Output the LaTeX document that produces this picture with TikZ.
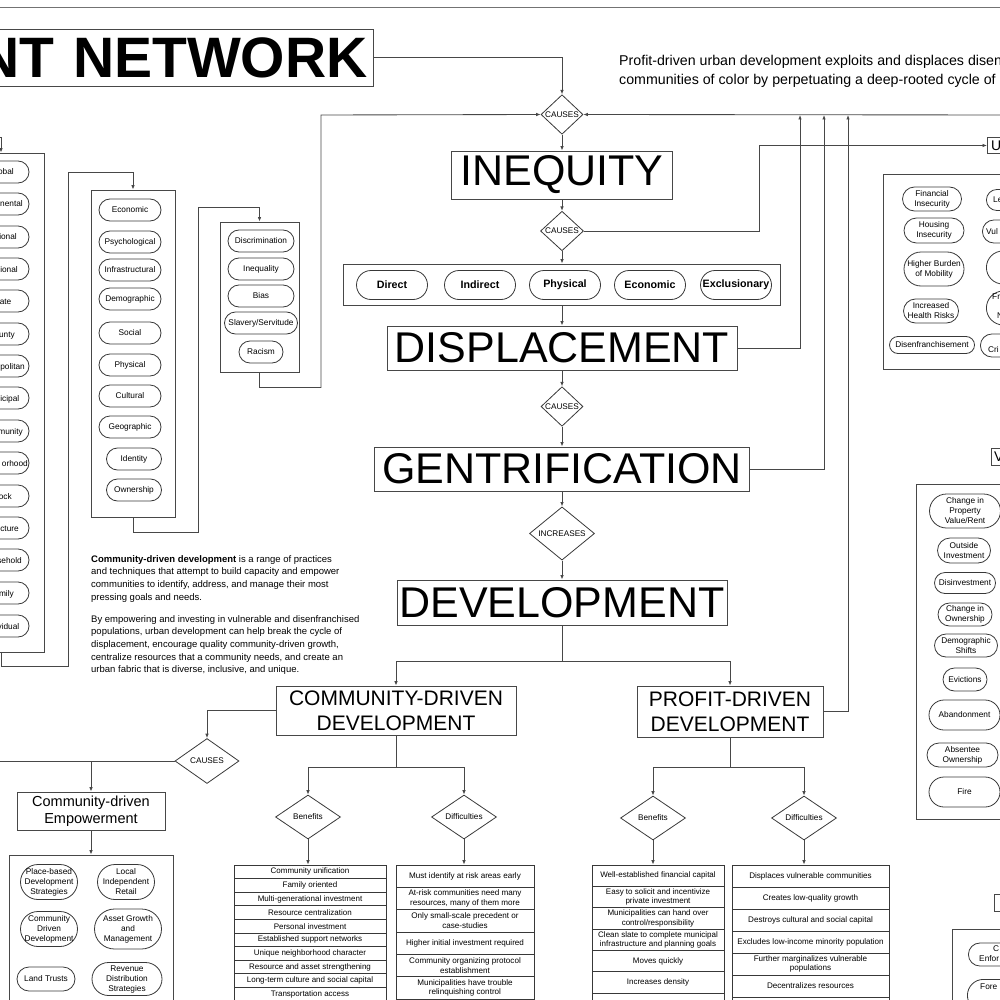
\documentclass[tikz,border=0pt]{standalone}
\usepackage{fontspec}
\setmainfont{Liberation Sans}
\usetikzlibrary{shapes.geometric,arrows.meta,positioning}
\begin{document}
\begin{tikzpicture}
[x=1pt,y=-1pt,
  linkdecorate/.style={draw=black!72,line width=0.85pt},
  arrowdecorate/.style={linkdecorate,-{Latex[length=4.5pt,width=3.6pt]}},
  boxdecorate/.style={draw=black!72,line width=0.9pt,inner sep=0pt},
  titledecorate/.style={boxdecorate,font=\fontsize{43}{43}\selectfont},
  subtitledecorate/.style={boxdecorate,align=center,font=\fontsize{21}{25}\selectfont},
  pilldecorate/.style={draw=black!78,line width=0.8pt,inner sep=0pt,align=center,font=\fontsize{8.3}{10}\selectfont},
  fragdecorate/.style={anchor=base west,inner sep=0pt,font=\fontsize{8.3}{10}\selectfont},
  gatedecorate/.style={diamond,draw=black!78,line width=0.8pt,inner sep=0pt,font=\fontsize{8.2}{9}\selectfont},
  rowdecorate/.style={draw=black!78,line width=0.8pt,inner sep=0pt,align=center,font=\fontsize{8.1}{9.6}\selectfont}]
\useasboundingbox (0,0) rectangle (1000,1000);
\clip (0,0) rectangle (1000,1000);

%% frame rule, title and texts
\draw[black!55,line width=0.8pt] (-5,7) -- (1005,7);
\node (title) [boxdecorate,anchor=east,text width=410pt,minimum height=57pt,inner xsep=6pt,align=right,font=\fontsize{57}{57}\selectfont\bfseries] at (374,57.5) {NT NETWORK};
\node (intro) [anchor=north west,inner sep=0pt,align=left,font=\fontsize{14.2}{19}\selectfont] at (619,55) {Profit-driven urban development exploits and displaces disen\\communities of color by perpetuating a deep-rooted cycle of};
\node (cddtext) [anchor=north west,inner sep=0pt,align=left,font=\fontsize{9.5}{12.7}\selectfont] at (91,555) {\textbf{Community-driven development} is a range of practices\\and techniques that attempt to build capacity and empower\\communities to identify, address, and manage their most\\pressing goals and needs.\\[9.3pt]By empowering and investing in vulnerable and disenfranchised\\populations, urban development can help break the cycle of\\displacement, encourage quality community-driven growth,\\centralize resources that a community needs, and create an\\urban fabric that is diverse, inclusive, and unique.};

%% main chain
\node (cause1) [gatedecorate,minimum width=42pt,minimum height=33pt] at (562,114.5) {CAUSES};
\node (inequity) [titledecorate,minimum width=221pt,minimum height=48pt] at (562,175) {INEQUITY};
\node (cause2) [gatedecorate,minimum width=43pt,minimum height=32pt] at (562,231) {CAUSES};
\node (types) [boxdecorate,minimum width=437pt,minimum height=41pt] at (562,284.5) {};
\foreach \nodename/\x in {Direct/392,Indirect/480,Physical/565,Economic/650,Exclusionary/736}
  \node (type\nodename) [pilldecorate,minimum width=71pt,minimum height=29pt,rounded corners=14.5pt,font=\fontsize{10.7}{12}\selectfont\bfseries] at (\x,285) {\nodename};
\node (displacement) [titledecorate,minimum width=350pt,minimum height=44pt] at (562,348) {DISPLACEMENT};
\node (cause3) [gatedecorate,minimum width=42pt,minimum height=30pt] at (562,406.5) {CAUSES};
\node (gentrification) [titledecorate,minimum width=375pt,minimum height=44pt] at (562,469) {GENTRIFICATION};
\node (increases) [gatedecorate,minimum width=65pt,minimum height=45pt] at (562,533.5) {INCREASES};
\node (development) [titledecorate,minimum width=330pt,minimum height=45pt] at (562,602.5) {DEVELOPMENT};
\node (community) [subtitledecorate,minimum width=240pt,minimum height=49pt] at (396,710.5) {COMMUNITY-DRIVEN\\DEVELOPMENT};
\node (profit) [subtitledecorate,minimum width=186pt,minimum height=51pt] at (730,711.5) {PROFIT-DRIVEN\\DEVELOPMENT};

\foreach \from/\to in {cause1/inequity,inequity/cause2,cause2/types,types/displacement,displacement/cause3,cause3/gentrification,gentrification/increases,increases/development}
  \draw[arrowdecorate] (\from) -- (\to);
\coordinate (devsplit) at (562,661);
\draw[arrowdecorate] (development) -- (devsplit) -| (community.north);
\draw[arrowdecorate] (devsplit) -| (profit.north);

%% links back up to the top
\node (ubox) [boxdecorate,anchor=west,minimum width=40pt,minimum height=16pt] at (987,145.5) {};
\node (ulabel) [anchor=west,inner sep=0pt,font=\fontsize{14}{14}\selectfont] at (991,145.5) {U};
\draw[arrowdecorate] (title.east) -| (cause1.north);
\draw[arrowdecorate] (cause2.east) -| (759,145.5) -- (ubox.west);
\draw[arrowdecorate] (displacement.east) -| (800,115);
\draw[arrowdecorate] (gentrification.east) -| (824,115);
\draw[arrowdecorate] (profit.east) -| (848,115);
\coordinate (farright) at (1010,115);
\draw[arrowdecorate] (farright) -- (cause1.east);

%% left boxes
\node (scales) [boxdecorate,minimum width=86pt,minimum height=499pt] at (1,402.5) {};
\node (forms) [boxdecorate,minimum width=84pt,minimum height=327pt] at (133,353.5) {};
\node (roots) [boxdecorate,minimum width=79pt,minimum height=150pt] at (259.5,297) {};
\coordinate (farleft) at (-20,137);
\draw[arrowdecorate] (farleft) -| (scales.north);
\draw[arrowdecorate] (scales.south) -- ++(0,14) -| (68,172) -| (forms.north);
\draw[arrowdecorate] (forms.south) -- ++(0,15) -| (198,207) -| (roots.north);
\draw[arrowdecorate] (roots.south) -- ++(0,15) -| (321,115) -- (cause1.west);

\foreach \y/\xend/\frag in {172/14/obal,204/23/nental,237/17/ional,269/18/ional,301/11.5/ate,334/15/unty,366/25/politan,398/19.5/icipal,431/23/munity,463/28/orhood,496/12/ock,528/19/cture,560/22/sehold,593/14/mily,626/19.5/vidual} {
  \node (scale\y) [pilldecorate,minimum width=58pt,minimum height=22pt,rounded corners=11pt] at (0,\y) {};
  \node (scaletext\y) [anchor=base east,inner sep=0pt,font=\fontsize{8.3}{10}\selectfont] at (\xend,\y+3) {\frag};
}
\foreach \x/\y/\w/\label in {130/210/62/Economic,130/242/62/Psychological,130/270/62/Infrastructural,130/299/62/Demographic,130/333/62/Social,130/365/62/Physical,130/396/62/Cultural,130/427/62/Geographic,134/459/55/Identity,134/490/55/Ownership}
  \node (form\y) [pilldecorate,minimum width=\w pt,minimum height=22pt,rounded corners=11pt] at (\x,\y) {\label};
\foreach \y/\w/\label in {241/66/Discrimination,269/66/Inequality,296/66/Bias,323/73/{Slavery/Servitude},352/44/Racism}
  \node (root\y) [pilldecorate,minimum width=\w pt,minimum height=22pt,rounded corners=11pt] at (261,\y) {\label};

%% community-driven side
\node (cause4) [gatedecorate,minimum width=64pt,minimum height=45pt] at (207,761) {CAUSES};
\draw[arrowdecorate] (community.west) -| (cause4.north);
\coordinate (farleft2) at (-10,761);
\draw[linkdecorate] (cause4.west) -- (farleft2);
\node (empower) [boxdecorate,align=center,minimum width=148pt,minimum height=38pt,font=\fontsize{14.5}{16.5}\selectfont] at (91,811) {Community-driven\\Empowerment};
\draw[arrowdecorate] (empower.north |- cause4.west) -- (empower.north);
\node (assets) [boxdecorate,minimum width=164pt,minimum height=185pt] at (91,947.5) {};
\draw[arrowdecorate] (empower) -- (assets);
\foreach \x/\y/\w/\h/\label [count=\i] in {49/882/57/35/{Place-based\\Development\\Strategies},126/882/57/35/{Local\\Independent\\Retail},49/929/57/35/{Community\\Driven\\Development},128/929/67/40/{Asset Growth\\and\\Management},46/979/58/24/{Land Trusts},127/979/70/33/{Revenue\\Distribution\\Strategies}}
  \node (asset\i) [pilldecorate,minimum width=\w pt,minimum height=\h pt,rounded corners=\h*0.5pt] at (\x,\y) {\label};

\node (cben) [gatedecorate,minimum width=65pt,minimum height=44pt] at (308,817) {Benefits};
\node (cdif) [gatedecorate,minimum width=65pt,minimum height=44pt] at (464,817) {Difficulties};
\coordinate (csplit) at (396,767);
\draw[arrowdecorate] (community) -- (csplit) -| (cben.north);
\draw[arrowdecorate] (csplit) -| (cdif.north);
\foreach \label [count=\i] in {Community unification,Family oriented,Multi-generational investment,Resource centralization,Personal investment,Established support networks,Unique neighborhood character,Resource and asset strengthening,Long-term culture and social capital,Transportation access}
  \node (cbenrow\i) [rowdecorate,font=\fontsize{8}{9.6}\selectfont,minimum width=152pt,minimum height=13.6pt] at (310,858.2+13.6*\i) {\label};
\foreach \label [count=\i] in {{Must identify at risk areas early},{At-risk communities need many\\resources, many of them more},{Only small-scale precedent or\\case-studies},{Higher initial investment required},{Community organizing protocol\\establishment},{Municipalities have trouble\\relinquishing control},{}}
  \node (cdifrow\i) [rowdecorate,minimum width=138pt,minimum height=22.33pt] at (465,853.83+22.33*\i) {\label};
\draw[arrowdecorate] (cben.south) -- (cben.south |- cbenrow1.north);
\draw[arrowdecorate] (cdif.south) -- (cdif.south |- cdifrow1.north);

%% profit-driven side
\node (pben) [gatedecorate,minimum width=65pt,minimum height=44pt] at (653,818) {Benefits};
\node (pdif) [gatedecorate,minimum width=65pt,minimum height=44pt] at (804,818) {Difficulties};
\coordinate (psplit) at (730,767);
\draw[arrowdecorate] (profit) -- (psplit) -| (pben.north);
\draw[arrowdecorate] (psplit) -| (pdif.north);
\foreach \label [count=\i] in {{Well-established financial capital},{Easy to solicit and incentivize\\private investment},{Municipalities can hand over\\{control/responsibility}},{Clean slate to complete municipal\\infrastructure and planning goals},{Moves quickly},{Increases density},{}}
  \node (pbenrow\i) [rowdecorate,font=\fontsize{8}{9.4}\selectfont,minimum width=132pt,minimum height=21.33pt] at (658,854.33+21.33*\i) {\label};
\foreach \label [count=\i] in {{Displaces vulnerable communities},{Creates low-quality growth},{Destroys cultural and social capital},{Excludes low-income minority population},{Further marginalizes vulnerable\\populations},{Decentralizes resources},{}}
  \node (pdifrow\i) [rowdecorate,minimum width=157pt,minimum height=22pt] at (810.5,854+22*\i) {\label};
\draw[arrowdecorate] (pben.south) -- (pben.south |- pbenrow1.north);
\draw[arrowdecorate] (pdif.south) -- (pdif.south |- pdifrow1.north);

%% right boxes
\node (harms) [boxdecorate,anchor=north west,minimum width=177pt,minimum height=195pt] at (883,174) {};
\foreach \x/\y/\w/\h/\label [count=\i] in {932/199/59/24/{Financial\\Insecurity},934/230.5/60/25/{Housing\\Insecurity},934/269/60/34/{Higher Burden\\of Mobility},931/311/55/24/{Increased\\Health Risks},932/345/85/17/Disenfranchisement}
  \node (harm\i) [pilldecorate,minimum width=\w pt,minimum height=\h pt,rounded corners=\h*0.5pt] at (\x,\y) {\label};
\foreach \xl/\y/\h [count=\i] in {986/200/21,982/231.5/23,986/267.5/33,986/308/34,980/345.5/23}
  \node (harmcut\i) [pilldecorate,anchor=west,minimum width=60pt,minimum height=\h pt,rounded corners=\h*0.5pt] at (\xl,\y) {};
\foreach \x/\y/\frag [count=\i] in {993/203/Le,986/234.5/Vul,992/299/Fra,997/318/N,988/352/Cri}
  \node (harmfrag\i) [fragdecorate] at (\x,\y) {\frag};

\node (vbox) [boxdecorate,anchor=west,minimum width=40pt,minimum height=17pt] at (991,456.5) {};
\node (vlabel) [anchor=west,inner sep=0pt,font=\fontsize{14}{14}\selectfont] at (994,456.5) {V};
\node (factors) [boxdecorate,anchor=north west,minimum width=144pt,minimum height=335pt] at (916,484) {};
\foreach \x/\y/\w/\h/\label [count=\i] in {965/511/71/34/{Change in\\Property\\Value/Rent},964/550.5/53/25/{Outside\\Investment},965/583/61/21/Disinvestment,965/614.5/54/23/{Change in\\Ownership},966/645.5/63/23/{Demographic\\Shifts},965/679.5/44/23/Evictions,964.5/715/71/30/Abandonment,962.5/755/71/24/{Absentee\\Ownership},964.5/792/71/30/Fire}
  \node (factor\i) [pilldecorate,minimum width=\w pt,minimum height=\h pt,rounded corners=\h*0.5pt] at (\x,\y) {\label};

\node (sbox) [boxdecorate,anchor=north west,minimum width=30pt,minimum height=17pt] at (994,894) {};
\node (controls) [boxdecorate,anchor=north west,minimum width=120pt,minimum height=120pt] at (952,929) {};
\node (control1) [pilldecorate,anchor=west,minimum width=70pt,minimum height=23pt,rounded corners=11.5pt] at (968,954.5) {};
\node (control2) [pilldecorate,anchor=north west,minimum width=70pt,minimum height=32pt,rounded corners=16pt] at (967,979) {};
\foreach \x/\y/\frag [count=\i] in {993/951/C,979/961/Enfor,980/989/Fore}
  \node (controlfrag\i) [fragdecorate] at (\x,\y) {\frag};
\end{tikzpicture}
\end{document}
